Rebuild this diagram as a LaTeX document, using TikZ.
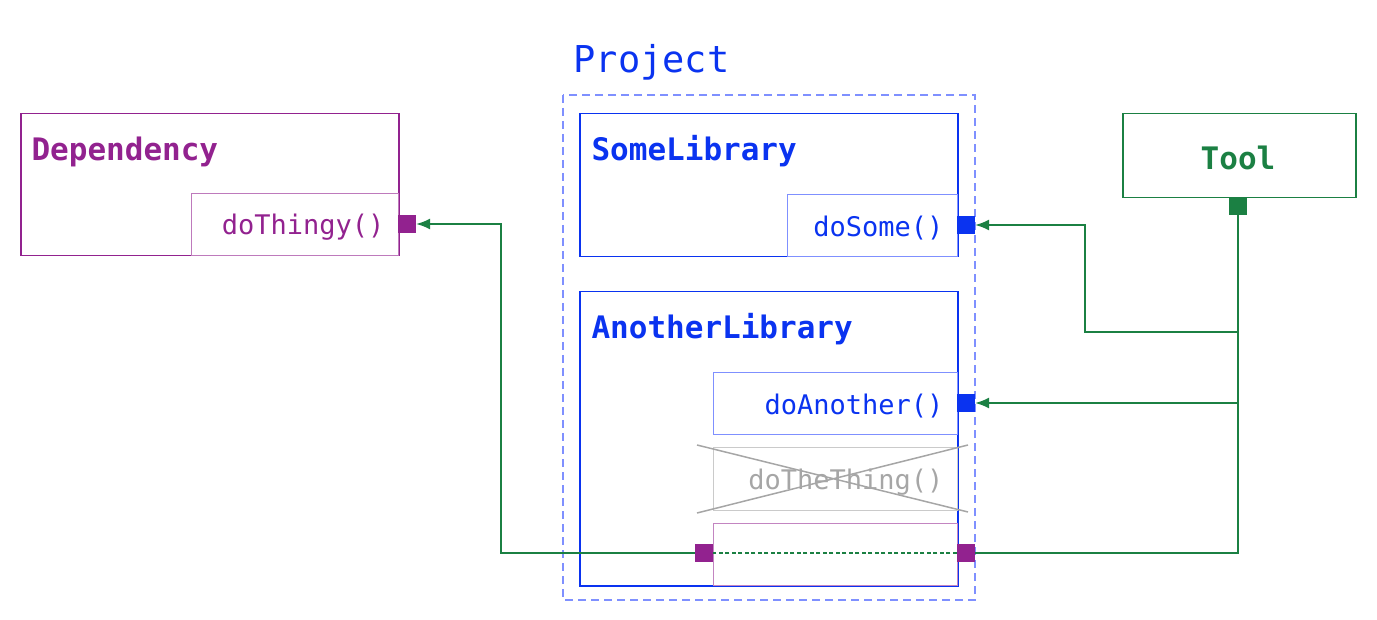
\documentclass[tikz,border=0pt]{standalone}
\usepackage{fontspec}
\setmonofont{DejaVu Sans Mono}
\usetikzlibrary{positioning,arrows.meta}
\definecolor{projblue}{HTML}{0A33F0}
\definecolor{lightblue}{HTML}{7F90FF}
\definecolor{deppurple}{HTML}{92228F}
\definecolor{toolgreen}{HTML}{1B8043}
\definecolor{ghost}{HTML}{A6A6A6}
\begin{document}
\begin{tikzpicture}[x=1pt,y=-1pt,
  box/.style={draw,line width=1.5pt,anchor=north west,inner sep=0pt},
  fn/.style={draw,line width=0.8pt,anchor=north west,inner sep=0pt,font=\ttfamily\fontsize{27}{30}\selectfont},
  title/.style={anchor=west,font=\ttfamily\bfseries\fontsize{31}{34}\selectfont},
  port/.style={fill,minimum size=18pt,inner sep=0pt},
  link/.style={toolgreen,line width=1.5pt},
  tip/.style={-{Latex[length=14pt,width=11pt]}}]
  \useasboundingbox (0,0) rectangle (1377,620);
  % project frame
  \node[anchor=west,projblue,font=\ttfamily\fontsize{37}{40}\selectfont] (proj) at (570,62) {Project};
  \draw[lightblue,line width=1.2pt,dash pattern=on 8pt off 5pt] (563,95) rectangle (975,600);
  % dependency
  \node[box,deppurple,minimum width=378pt,minimum height=142pt] (dep) at (20,113) {};
  \node[title,deppurple] at (28,152) {Dependency};
  \node[fn,deppurple!60,text=deppurple,minimum width=207pt,minimum height=62pt] (thingy) at (191,193) {};
  \node[deppurple,font=\ttfamily\fontsize{27}{30}\selectfont,anchor=east] at (388,227) {doThingy()};
  % libraries
  \node[box,projblue,minimum width=378pt,minimum height=143pt] (some) at (579,113) {};
  \node[title,projblue] at (588,151) {SomeLibrary};
  \node[fn,lightblue,minimum width=170pt,minimum height=62pt] (dosome) at (787,194) {};
  \node[projblue,font=\ttfamily\fontsize{27}{30}\selectfont,anchor=east] at (947,228) {doSome()};
  \node[box,projblue,minimum width=378pt,minimum height=294pt] (another) at (579,291) {};
  \node[title,projblue] at (588,329) {AnotherLibrary};
  \node[fn,lightblue,minimum width=244pt,minimum height=62pt] (doanother) at (713,372) {};
  \node[projblue,font=\ttfamily\fontsize{27}{30}\selectfont,anchor=east] at (947,406) {doAnother()};
  \node[fn,ghost!60,minimum width=244pt,minimum height=63pt] (dothe) at (713,447) {};
  \node[ghost,font=\ttfamily\fontsize{27}{30}\selectfont,anchor=east] at (947,482) {doTheThing()};
  \draw[ghost,line width=1.5pt] (697,445) -- (968,512) (697,513) -- (968,445);
  \node[fn,deppurple!55,minimum width=244pt,minimum height=62pt] (proxy) at (713,523) {};
  % tool
  \node[box,toolgreen,minimum width=233pt,minimum height=84pt] (tool) at (1122,113) {};
  \node[toolgreen,font=\ttfamily\bfseries\fontsize{31}{34}\selectfont] at (1238,158) {Tool};
  % ports
  \node[port,deppurple] (pthingy) at (407,224) {};
  \node[port,projblue] (psome) at (966,225) {};
  \node[port,projblue] (panother) at (966,403) {};
  \node[port,deppurple] (pin) at (704,553) {};
  \node[port,deppurple] (pout) at (966,553) {};
  \node[port,toolgreen] (ptool) at (1238,206) {};
  \coordinate (fork) at (1238,332);
  \coordinate (bend) at (1085,332);
  \coordinate (back) at (501,553);
  % connectors
  \draw[link] (ptool) |- (pout);
  \draw[link,tip] (fork) -- (bend) |- (psome);
  \draw[link,tip] (ptool |- panother) -- (panother);
  \draw[link,dash pattern=on 4pt off 2.5pt] (pout) -- (pin);
  \draw[link,tip] (pin) -- (back) |- (pthingy);
\end{tikzpicture}
\end{document}
